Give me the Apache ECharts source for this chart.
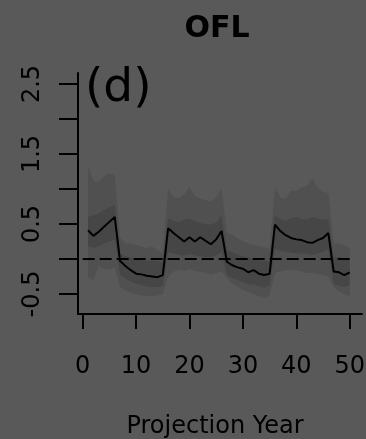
<!DOCTYPE html>
<html>
  <head>
    <meta charset="UTF-8">
    <title>OFL</title>
    <script src="https://cdn.jsdelivr.net/npm/echarts@6/dist/echarts.min.js"></script>
    <style>
      html, body { margin: 0; padding: 0; background: #595959; }
      #main { width: 366px; height: 439px; }
    </style>
  </head>
  <body>
    <div id="main"></div>
    <script type="text/javascript">
      // projection years and quantiles
      var years = [];
      for (var y = 1; y <= 50; y++) years.push(y);

      var median = [0.41, 0.33, 0.39, 0.46, 0.53, 0.60,
        -0.03, -0.10, -0.16, -0.21, -0.22, -0.24, -0.25, -0.26, -0.23,
        0.44, 0.37, 0.31, 0.25, 0.31, 0.25, 0.31, 0.26, 0.21, 0.28, 0.40,
        -0.04, -0.09, -0.12, -0.14, -0.19, -0.16, -0.21, -0.23, -0.21,
        0.49, 0.40, 0.34, 0.30, 0.28, 0.27, 0.24, 0.23, 0.27, 0.30, 0.37,
        -0.18, -0.19, -0.23, -0.19];
      var hi95 = [1.32, 1.12, 1.10, 1.18, 1.22, 1.20,
        0.30, 0.22, 0.22, 0.20, 0.18, 0.15, 0.18, 0.12, 0.08,
        1.01, 0.88, 0.87, 0.92, 1.03, 0.90, 0.86, 0.84, 0.82, 0.88, 1.00,
        0.37, 0.35, 0.30, 0.25, 0.22, 0.20, 0.18, 0.17, 0.15,
        1.03, 0.88, 0.86, 0.98, 0.97, 1.02, 1.05, 1.15, 1.02, 0.96, 0.94,
        0.22, 0.22, 0.20, 0.16];
      var hi50 = [0.60, 0.62, 0.65, 0.70, 0.74, 0.77,
        0.08, 0.04, 0.02, 0.00, -0.02, -0.03, -0.02, -0.03, -0.05,
        0.58, 0.54, 0.53, 0.56, 0.58, 0.54, 0.51, 0.50, 0.49, 0.52, 0.62,
        0.12, 0.10, 0.06, 0.04, 0.02, 0.00, -0.02, -0.03, -0.03,
        0.62, 0.57, 0.55, 0.58, 0.60, 0.57, 0.56, 0.60, 0.58, 0.56, 0.58,
        0.02, 0.03, 0.01, -0.02];
      var lo50 = [0.18, 0.16, 0.18, 0.22, 0.25, 0.28,
        -0.22, -0.28, -0.32, -0.35, -0.37, -0.39, -0.40, -0.40, -0.38,
        0.10, 0.08, 0.06, 0.05, 0.07, 0.05, 0.04, 0.03, 0.02, 0.05, 0.10,
        -0.22, -0.27, -0.30, -0.33, -0.36, -0.36, -0.39, -0.41, -0.38,
        0.15, 0.12, 0.10, 0.09, 0.08, 0.08, 0.07, 0.06, 0.08, 0.10, 0.14,
        -0.36, -0.38, -0.40, -0.38];
      var lo95 = [-0.25, -0.30, -0.10, -0.14, -0.15, -0.12,
        -0.40, -0.45, -0.48, -0.50, -0.52, -0.53, -0.53, -0.52, -0.50,
        -0.25, -0.18, -0.15, -0.17, -0.14, -0.17, -0.18, -0.20, -0.22, -0.20, -0.18,
        -0.28, -0.35, -0.40, -0.44, -0.47, -0.50, -0.53, -0.56, -0.52,
        -0.20, -0.18, -0.16, -0.15, -0.16, -0.18, -0.20, -0.20, -0.21, -0.23, -0.25,
        -0.40, -0.46, -0.50, -0.54];

      var xTicks = [0, 10, 20, 30, 40, 50];
      var yTicks = [-0.5, 0, 0.5, 1, 1.5, 2, 2.5];
      var yLabels = [-0.5, 0.5, 1.5, 2.5];

      var FONT = 'DejaVu Sans';

      // band polygon: upper edge left to right, lower edge back
      function bandItem(lo, hi, color) {
        return function (params, api) {
          if (params.dataIndex !== 0) return null;
          var pts = [];
          for (var i = 0; i < years.length; i++) pts.push(api.coord([years[i], hi[i]]));
          for (var j = years.length - 1; j >= 0; j--) pts.push(api.coord([years[j], lo[j]]));
          return {
            type: 'polygon',
            shape: { points: pts },
            style: { fill: color }
          };
        };
      }

      var chart = echarts.init(document.getElementById('main'));
      chart.setOption({
        backgroundColor: '#595959',
        animation: false,
        grid: { left: 78, right: 4, top: 73, bottom: 125, containLabel: false, outerBoundsMode: 'none' },
        xAxis: {
          type: 'value',
          min: -0.88,
          max: 52.3,
          splitLine: { show: false },
          axisLine: { show: true, onZero: false, lineStyle: { color: '#000', width: 2 } },
          axisTick: { show: true, customValues: xTicks, length: 15, lineStyle: { color: '#000', width: 2 } },
          axisLabel: { customValues: xTicks, margin: 41, color: '#000', fontFamily: FONT, fontSize: 24 },
          name: 'Projection Year',
          nameLocation: 'middle',
          nameGap: 101,
          nameTextStyle: { color: '#000', fontFamily: FONT, fontSize: 24, padding: [0, 10, 0, 0] }
        },
        yAxis: {
          type: 'value',
          min: -0.786,
          max: 2.657,
          splitLine: { show: false },
          axisLine: { show: true, onZero: false, lineStyle: { color: '#000', width: 2 } },
          axisTick: { show: true, customValues: yTicks, length: 19, lineStyle: { color: '#000', width: 2 } },
          axisLabel: { customValues: yLabels, rotate: 90, margin: 33, color: '#000', fontFamily: FONT, fontSize: 24 }
        },
        graphic: [
          { type: 'text', x: 217, y: 29, style: { text: 'OFL', fill: '#000', font: 'bold 30px "DejaVu Sans"', textAlign: 'center', textVerticalAlign: 'middle' } },
          { type: 'text', x: 85, y: 89, style: { text: '(d)', fill: '#000', font: '47px "DejaVu Sans"', textAlign: 'left', textVerticalAlign: 'middle' } }
        ],
        series: [
          {
            type: 'custom',
            renderItem: bandItem(lo95, hi95, '#505050'),
            data: [[years[0], median[0]]],
            z: 1,
            silent: true
          },
          {
            type: 'custom',
            renderItem: bandItem(lo50, hi50, '#464646'),
            data: [[years[0], median[0]]],
            z: 2,
            silent: true
          },
          {
            type: 'line',
            data: years.map(function (yr, i) { return [yr, median[i]]; }),
            symbol: 'none',
            z: 4,
            lineStyle: { color: '#000', width: 2 },
            markLine: {
              silent: true,
              symbol: 'none',
              label: { show: false },
              z: 3,
              lineStyle: { color: '#000', width: 2, type: [12, 5] },
              data: [[{ coord: [xTicks[0], 0] }, { coord: [xTicks[xTicks.length - 1], 0] }]]
            }
          }
        ]
      });
    </script>
  </body>
</html>
